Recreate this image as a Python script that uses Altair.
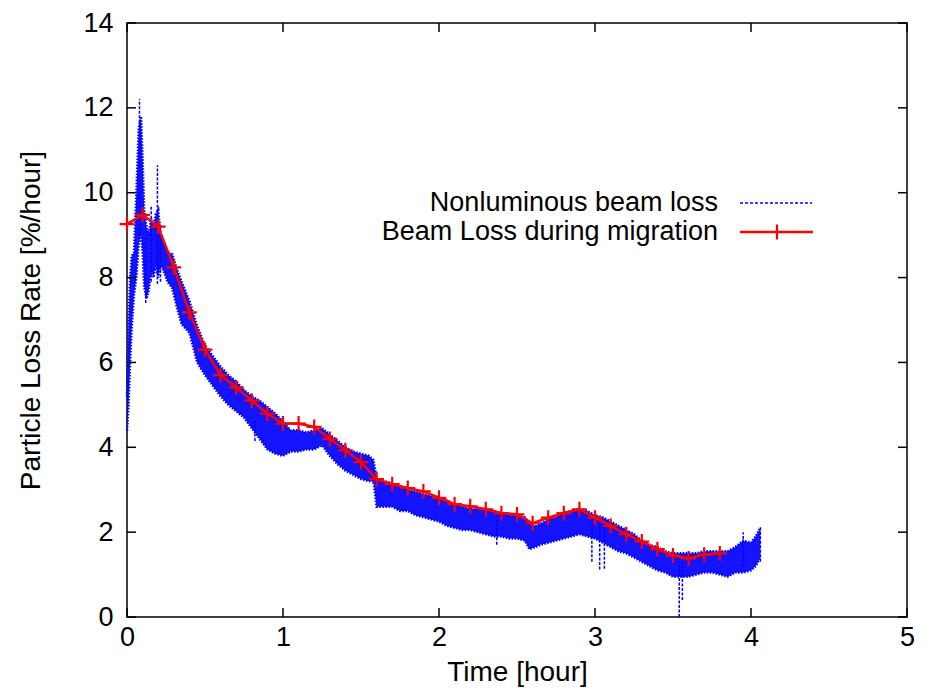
import altair as alt
import pandas as pd

# ---- data ----
red_t = [0.0, 0.1, 0.2, 0.3, 0.4, 0.5, 0.6, 0.7, 0.8, 0.9, 1.0, 1.1, 1.2, 1.3,
         1.4, 1.5, 1.6, 1.7, 1.8, 1.9, 2.0, 2.1, 2.2, 2.3, 2.4, 2.5, 2.6, 2.7,
         2.8, 2.9, 3.0, 3.1, 3.2, 3.3, 3.4, 3.5, 3.6, 3.7, 3.8]
red_v = [9.26, 9.48, 9.2, 8.24, 7.18, 6.3, 5.7, 5.41, 5.1, 4.79, 4.56, 4.56,
         4.48, 4.2, 3.93, 3.65, 3.25, 3.13, 3.04, 2.96, 2.81, 2.66, 2.61, 2.54,
         2.45, 2.42, 2.21, 2.34, 2.45, 2.54, 2.34, 2.15, 1.95, 1.78, 1.6, 1.45,
         1.38, 1.47, 1.5]

blue_t = [0.0, 0.01, 0.02, 0.03, 0.045, 0.06, 0.075, 0.09, 0.10, 0.11, 0.125,
          0.14, 0.155, 0.17, 0.185, 0.20, 0.215, 0.23, 0.26, 0.29, 0.32, 0.35,
          0.40, 0.45, 0.50, 0.55, 0.60, 0.65, 0.70, 0.75, 0.80, 0.85, 0.90,
          0.95, 1.00, 1.05, 1.10, 1.15, 1.20, 1.25, 1.30, 1.35, 1.40, 1.45,
          1.50, 1.55, 1.58, 1.60, 1.65, 1.70, 1.75, 1.80, 1.85, 1.90, 1.95,
          2.00, 2.05, 2.10, 2.15, 2.20, 2.25, 2.30, 2.35, 2.40, 2.45, 2.50,
          2.55, 2.58, 2.62, 2.65, 2.70, 2.75, 2.80, 2.85, 2.90, 2.95, 3.00,
          3.05, 3.10, 3.15, 3.20, 3.25, 3.30, 3.35, 3.40, 3.45, 3.50, 3.55,
          3.60, 3.65, 3.70, 3.75, 3.80, 3.85, 3.90, 3.95, 4.00, 4.03, 4.06]
blue_lo = [4.4, 5.0, 6.0, 6.8, 7.6, 8.0, 8.8, 9.0, 8.6, 7.8, 7.5, 7.7, 8.2, 8.0,
           8.3, 8.0, 8.3, 8.2, 7.9, 7.75, 7.3, 6.9, 6.7, 6.0, 5.7, 5.45, 5.2,
           5.0, 4.85, 4.7, 4.45, 4.2, 3.95, 3.85, 3.8, 3.9, 3.9, 3.95, 3.95,
           4.05, 3.8, 3.6, 3.45, 3.35, 3.25, 3.2, 3.2, 2.6, 2.6, 2.6, 2.5, 2.5,
           2.4, 2.35, 2.3, 2.25, 2.15, 2.1, 2.05, 2.05, 2.0, 1.95, 1.9, 1.9,
           1.85, 1.85, 1.8, 1.6, 1.65, 1.7, 1.75, 1.8, 1.85, 1.9, 1.95, 1.9,
           1.85, 1.75, 1.65, 1.55, 1.5, 1.4, 1.3, 1.2, 1.1, 1.05, 0.95, 0.95,
           0.95, 1.0, 1.05, 1.05, 1.0, 0.95, 1.05, 1.05, 1.1, 1.2, 1.4]
blue_hi = [5.2, 7.0, 8.0, 8.5, 8.6, 10.0, 11.5, 11.8, 10.8, 9.6, 9.2, 9.0, 9.4,
           9.2, 9.5, 9.6, 9.0, 8.9, 8.6, 8.55, 8.2, 7.9, 7.45, 6.85, 6.4, 6.15,
           5.9, 5.7, 5.55, 5.35, 5.2, 5.1, 4.95, 4.8, 4.6, 4.4, 4.4, 4.35, 4.4,
           4.45, 4.3, 4.15, 4.0, 3.9, 3.85, 3.8, 3.7, 3.25, 3.2, 3.15, 3.05,
           3.0, 2.95, 2.9, 2.85, 2.8, 2.75, 2.65, 2.6, 2.55, 2.55, 2.55, 2.5,
           2.45, 2.4, 2.4, 2.35, 2.2, 2.15, 2.2, 2.3, 2.35, 2.45, 2.5, 2.55,
           2.5, 2.4, 2.35, 2.25, 2.15, 2.05, 1.95, 1.8, 1.7, 1.65, 1.55, 1.5,
           1.5, 1.5, 1.5, 1.55, 1.55, 1.55, 1.55, 1.65, 1.8, 1.75, 1.9, 2.1]

spike_t = [0.08, 0.12, 0.155, 0.195, 0.215, 0.82, 2.37, 2.98, 3.03, 3.06,
           3.54, 3.56, 3.95, 4.06]
spike_lo = [9.0, 7.4, 7.9, 7.85, 7.9, 4.15, 1.7, 1.3, 1.12, 1.14, 0.0, 0.4,
            1.2, 1.3]
spike_hi = [12.2, 9.0, 9.7, 10.65, 9.3, 4.6, 2.3, 2.2, 2.2, 2.2, 1.3, 1.3,
            2.0, 2.15]

x_ticks = [0, 1, 2, 3, 4, 5]
y_ticks = [0, 2, 4, 6, 8, 10, 12, 14]
series_names = ["Nonluminous beam loss", "Beam Loss during migration"]
x_title = "Time [hour]"
y_title = "Particle Loss Rate [%/hour]"

BLUE = "#0000ff"
RED = "#ff0000"
FONT = "Liberation Sans"
FS = 27
W, H = 780, 594

red_df = pd.DataFrame({"t": red_t, "v": red_v})
blue_df = pd.DataFrame({"t": blue_t, "lo": blue_lo, "hi": blue_hi})
spike_df = pd.DataFrame({"t": spike_t, "lo": spike_lo, "hi": spike_hi})
xt_df = pd.DataFrame({"t": x_ticks})
yt_df = pd.DataFrame({"v": y_ticks})

xscale = alt.Scale(domain=[0, 5], nice=False, zero=False)
yscale = alt.Scale(domain=[0, 14], nice=False, zero=False)
xaxis = alt.Axis(values=x_ticks, title=x_title, format="d")
yaxis = alt.Axis(values=y_ticks, title=y_title, format="d")


def X(field):
    return alt.X(field, scale=xscale, axis=xaxis, title=x_title)


def Y(field):
    return alt.Y(field, scale=yscale, axis=yaxis, title=y_title)


band = alt.Chart(blue_df).mark_area(color=BLUE, opacity=0.92).encode(
    x=X("t:Q"), y=Y("lo:Q"), y2="hi:Q",
)
edge_lo = alt.Chart(blue_df).mark_line(color=BLUE, strokeWidth=2.5,
                                       strokeDash=[1.5, 1.5]).encode(
    x=X("t:Q"), y=Y("lo:Q"),
)
edge_hi = alt.Chart(blue_df).mark_line(color=BLUE, strokeWidth=2.5,
                                       strokeDash=[1.5, 1.5]).encode(
    x=X("t:Q"), y=Y("hi:Q"),
)

spikes = alt.Chart(spike_df).mark_rule(color=BLUE, strokeWidth=1.5,
                                       strokeDash=[3, 1.5]).encode(
    x=X("t:Q"), y=Y("lo:Q"), y2="hi:Q",
)

plus = "M-1,0L1,0M0,-1L0,1"

red_line = alt.Chart(red_df).mark_line(color=RED, strokeWidth=2.5).encode(
    x=X("t:Q"), y=Y("v:Q"),
)
red_pts = alt.Chart(red_df).mark_point(shape=plus, size=220, color=RED,
                                       filled=False, strokeWidth=2.2,
                                       opacity=1).encode(
    x=X("t:Q"), y=Y("v:Q"),
)

tick_style = dict(color="black", strokeWidth=1.5)
tb = alt.Chart(xt_df).mark_rule(**tick_style).encode(
    x=X("t:Q"), y=alt.value(H), y2=alt.value(H - 9))
tt = alt.Chart(xt_df).mark_rule(**tick_style).encode(
    x=X("t:Q"), y=alt.value(0), y2=alt.value(9))
tl = alt.Chart(yt_df).mark_rule(**tick_style).encode(
    y=Y("v:Q"), x=alt.value(0), x2=alt.value(9))
tr = alt.Chart(yt_df).mark_rule(**tick_style).encode(
    y=Y("v:Q"), x=alt.value(W), x2=alt.value(W - 9))

leg1_df = pd.DataFrame({"name": [series_names[0]]})
leg2_df = pd.DataFrame({"name": [series_names[1]]})
leg_text1 = alt.Chart(leg1_df).mark_text(align="right", baseline="middle",
                                          font=FONT, fontSize=FS,
                                          color="black").encode(
    text="name:N", x=alt.value(591), y=alt.value(180))
leg_text2 = alt.Chart(leg2_df).mark_text(align="right", baseline="middle",
                                          font=FONT, fontSize=FS,
                                          color="black").encode(
    text="name:N", x=alt.value(591), y=alt.value(209))
leg_line1 = alt.Chart(leg1_df).mark_rule(color=BLUE, strokeWidth=1.5,
                                         strokeDash=[3, 2]).encode(
    x=alt.value(613), x2=alt.value(685), y=alt.value(180))
leg_line2 = alt.Chart(leg2_df).mark_rule(color=RED, strokeWidth=2.5).encode(
    x=alt.value(613), x2=alt.value(686), y=alt.value(209))
leg_pt2 = alt.Chart(leg2_df).mark_point(shape=plus, size=220, color=RED,
                                        filled=False, strokeWidth=2.2,
                                        opacity=1).encode(
    x=alt.value(650), y=alt.value(209))

chart = alt.layer(
    band, edge_lo, edge_hi, spikes, red_line, red_pts, tb, tt, tl, tr,
    leg_text1, leg_text2, leg_line1, leg_line2, leg_pt2,
).properties(
    width=W, height=H,
    autosize=alt.AutoSizeParams(type="none"),
    padding={"left": 119, "top": 15, "right": 20, "bottom": 74},
    background="white",
).configure_view(
    stroke="black", strokeWidth=1.5
).configure_axis(
    domain=False, ticks=False, grid=False, labelFlush=False,
    labelFont=FONT, labelFontSize=FS, labelColor="black",
    titleFont=FONT, titleFontSize=28, titleColor="black",
    titleFontWeight="normal",
).configure_axisX(
    labelPadding=7, titlePadding=8,
).configure_axisY(
    labelPadding=14, titlePadding=37,
)

chart.save("out.html", embed_options={"renderer": "svg", "actions": False})
